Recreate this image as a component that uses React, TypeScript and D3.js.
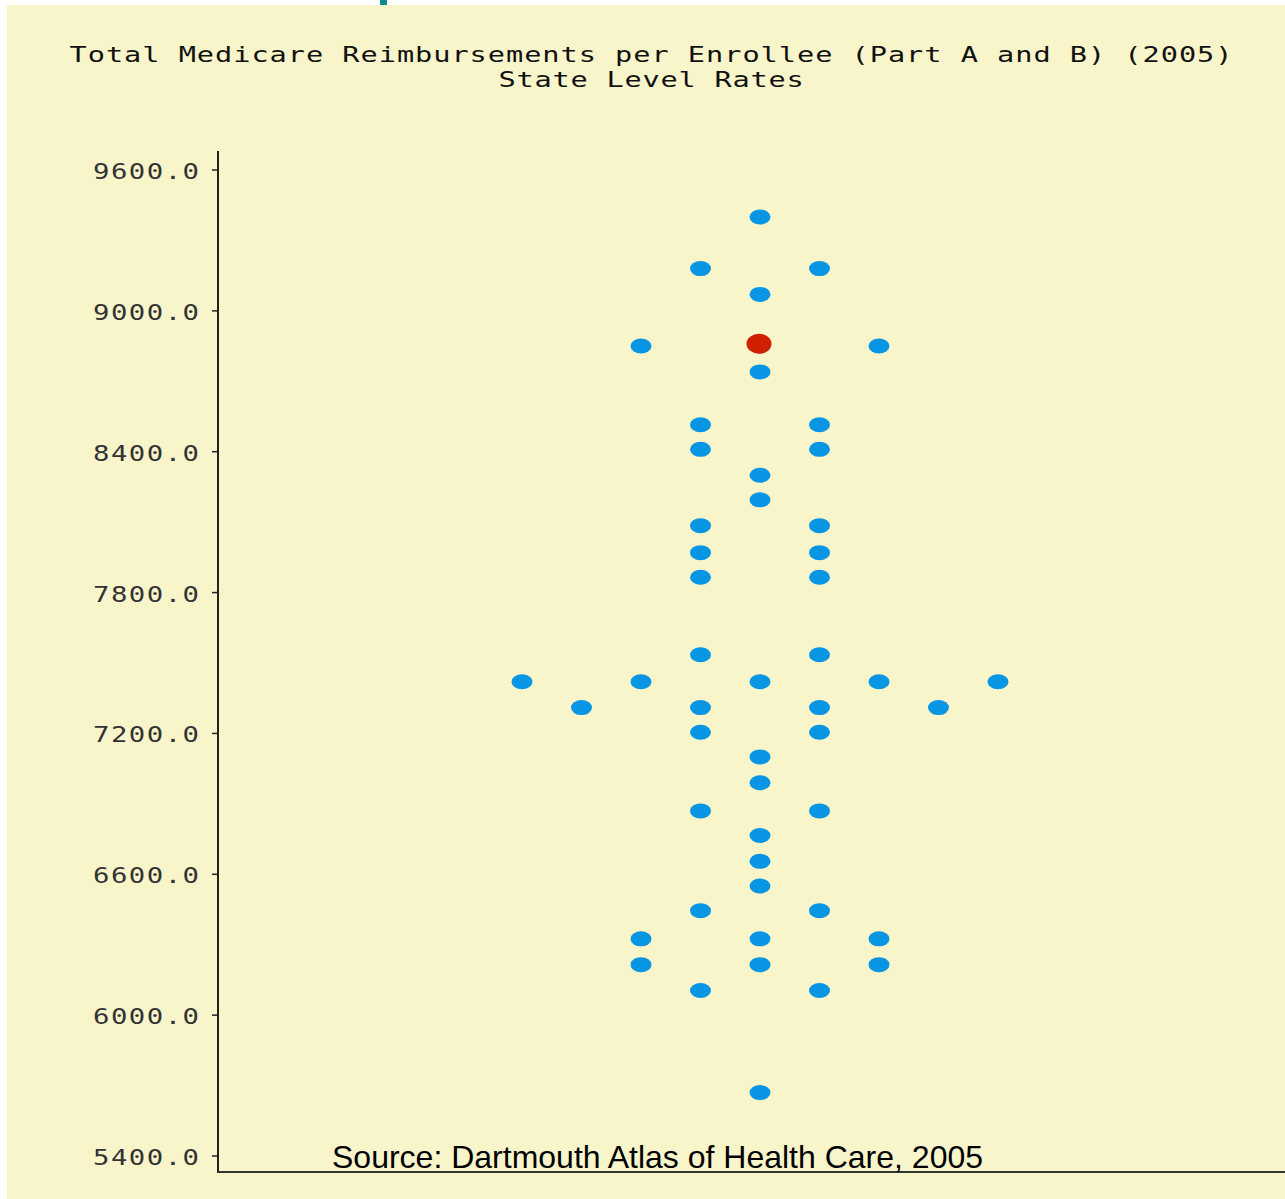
import React from 'react';
import * as d3 from 'd3';

// state-level rates, one per state + DC
const stateRates = [
  9400,
  9180, 9180,
  9070,
  8850, 8850, 8850,
  8740,
  8515, 8515,
  8410, 8410,
  8300,
  8195,
  8085, 8085,
  7970, 7970,
  7865, 7865,
  7535, 7535,
  7420, 7420, 7420, 7420, 7420,
  7310, 7310, 7310, 7310,
  7205, 7205,
  7100,
  6990,
  6870, 6870,
  6765,
  6655,
  6550,
  6445, 6445,
  6325, 6325, 6325,
  6215, 6215, 6215,
  6105, 6105,
  5670,
];
const highlightRate = 8860;
const yTicks = [5400, 6000, 6600, 7200, 7800, 8400, 9000, 9600];
const titleLines = [
  'Total Medicare Reimbursements per Enrollee (Part A and B) (2005)',
  'State Level Rates',
];
const sourceText = 'Source: Dartmouth Atlas of Health Care, 2005';

const W = 1285;
const H = 1199;
const BG = '#f9f5cb';
const DOT = '#0895e3';
const RED = '#d12000';
const monoFont = '"DejaVu Sans Mono", "Liberation Mono", monospace';
const SX = 1.3; // the old SAS font is wide, stretch the mono glyphs

export default function App() {
  const y = d3.scaleLinear().domain([5400, 9600]).range([1156, 170]);
  const slot = d3.scaleLinear().domain([-4, 4]).range([522, 998]);
  const axisX = 218;
  const axisTop = 151;
  const axisBottom = 1172;

  // stack equal values side by side, centred on the middle column
  const rows = Array.from(d3.group(stateRates, d => d).entries());
  const dots: { v: number; s: number }[] = [];
  rows.forEach(([v, list]) => {
    const n = list.length;
    list.forEach((_, i) => dots.push({ v, s: -(n - 1) + 2 * i }));
  });

  return (
    <svg width={W} height={H} style={{ position: 'absolute', left: 0, top: 0 }}>
      <rect x={0} y={0} width={W} height={H} fill="#fff" />
      <rect x={7} y={5} width={W - 7} height={H - 5} fill={BG} />
      <rect x={380} y={0} width={7} height={5} fill="#0e8a94" />

      {titleLines.map((t, i) => (
        <text
          key={t}
          transform={`translate(651,${62 + i * 25}) scale(${SX},1)`}
          textAnchor="middle"
          fontFamily={monoFont}
          fontSize={22}
          fill="#111"
          textLength={(t.length * 18.25 - 5) / SX}
          lengthAdjust="spacing"
        >
          {t}
        </text>
      ))}

      {/* y axis */}
      <line x1={axisX} y1={axisTop} x2={axisX} y2={axisBottom + 1} stroke="#222" strokeWidth={2} />
      <line x1={axisX - 1} y1={axisBottom} x2={W} y2={axisBottom} stroke="#333" strokeWidth={2} />
      {yTicks.map(t => (
        <g key={t}>
          <line x1={axisX - 6} y1={y(t)} x2={axisX} y2={y(t)} stroke="#222" strokeWidth={1.5} />
          <text
            transform={`translate(199,${y(t) + 9}) scale(${SX},1)`}
            textAnchor="end"
            fontFamily={monoFont}
            fontSize={21}
            fill="#333"
            textLength={106 / SX}
            lengthAdjust="spacing"
          >
            {d3.format('.1f')(t)}
          </text>
        </g>
      ))}

      {dots.map((d, i) => (
        <ellipse key={i} cx={slot(d.s)} cy={y(d.v)} rx={10.5} ry={7.5} fill={DOT} />
      ))}
      <ellipse cx={slot(0) - 1} cy={y(highlightRate)} rx={12.5} ry={10} fill={RED} />

      <text
        x={332}
        y={1168}
        fontFamily='"Liberation Sans", Arial, sans-serif'
        fontSize={32}
        fill="#000"
      >
        {sourceText}
      </text>
    </svg>
  );
}
